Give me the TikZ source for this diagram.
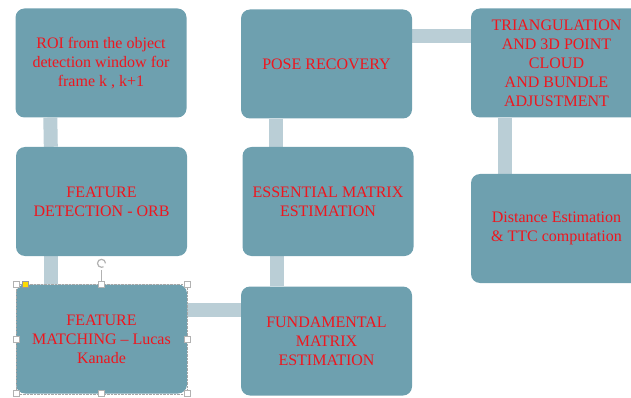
\documentclass[tikz,border=0pt]{standalone}
\usepackage{fontspec}
\setmainfont{Liberation Serif}
\usetikzlibrary{backgrounds}
\definecolor{boxfill}{RGB}{110,160,175}
\definecolor{linkfill}{RGB}{186,206,214}
\definecolor{labelred}{RGB}{238,22,30}
\tikzset{
	stage/.style = {rectangle, rounded corners=9pt, fill=boxfill, text=labelred,
		minimum width=171pt, minimum height=109pt, inner sep=2pt, align=center,
		font=\fontsize{16}{19}\selectfont},
	link/.style = {draw=linkfill, line width=14pt},
	grip/.style = {draw=gray!60, fill=white, line width=0.6pt},
}
\begin{document}
\begin{tikzpicture}[x=1pt, y=-1pt]
		\useasboundingbox (0,0) rectangle (631,398);
		\clip (0,0) rectangle (631,398);
		% stages
		\node [stage] (roi) at (101,63) {ROI from the object\\detection window for\\frame k , k+1};
		\node [stage] (detect) at (101.5,201.5) {FEATURE\\DETECTION - ORB};
		\node [stage] (match) at (101.5,339) {FEATURE\\MATCHING -- Lucas\\Kanade};
		\node [stage] (fund) at (326.5,341) {FUNDAMENTAL\\MATRIX\\ESTIMATION};
		\node [stage] (ess) at (328,201.5) {ESSENTIAL MATRIX\\ESTIMATION};
		\node [stage] (pose) at (326.5,64) {POSE RECOVERY};
		\node [stage] (tri) at (556.5,63) {TRIANGULATION\\AND 3D POINT\\CLOUD\\AND BUNDLE\\ADJUSTMENT};
		\node [stage] (dist) at (556.5,228.5) {Distance Estimation\\\& TTC computation};
		% links
		\begin{scope}[on background layer]
			\draw [link] ([xshift=35pt]roi.south west) -- ([xshift=35pt]detect.north west);
			\draw [link] ([xshift=35pt]detect.south west) -- ([xshift=35pt]match.north west);
			\draw [link] ([yshift=-26pt]match.north east) -- ([yshift=-26pt]match.north east -| fund.west);
			\draw [link] ([xshift=35pt]ess.south west) -- ([xshift=35pt]ess.south west |- fund.north);
			\draw [link] ([xshift=35pt]pose.south west) -- ([xshift=35pt]pose.south west |- ess.north);
			\draw [link] ([yshift=-27pt]pose.north east) -- ([yshift=-27pt]pose.north east -| tri.west);
			\draw [link] ([xshift=34pt]tri.south west) -- ([xshift=34pt]tri.south west |- dist.north);
		\end{scope}
		% selection frame
		\draw [gray!70, densely dotted] (match.north west) rectangle (match.south east);
		\draw [gray!60, line width=0.6pt] (match.north) -- ++(0,-14);
		\draw [gray!60, line width=1.2pt] ([yshift=21pt]match.north) ++(4,0)
		arc [start angle=0, end angle=300, radius=4pt];
		\foreach \a in {north west, north, north east, west, east, south west, south, south east}
		\draw [grip] ([shift={(-3,-3)}]match.\a) rectangle ++(6,6);
		\draw [draw=gray!80, fill=yellow!80!orange] ([shift={(6,-3)}]match.north west) rectangle ++(6,6);
	\end{tikzpicture}
\end{document}
